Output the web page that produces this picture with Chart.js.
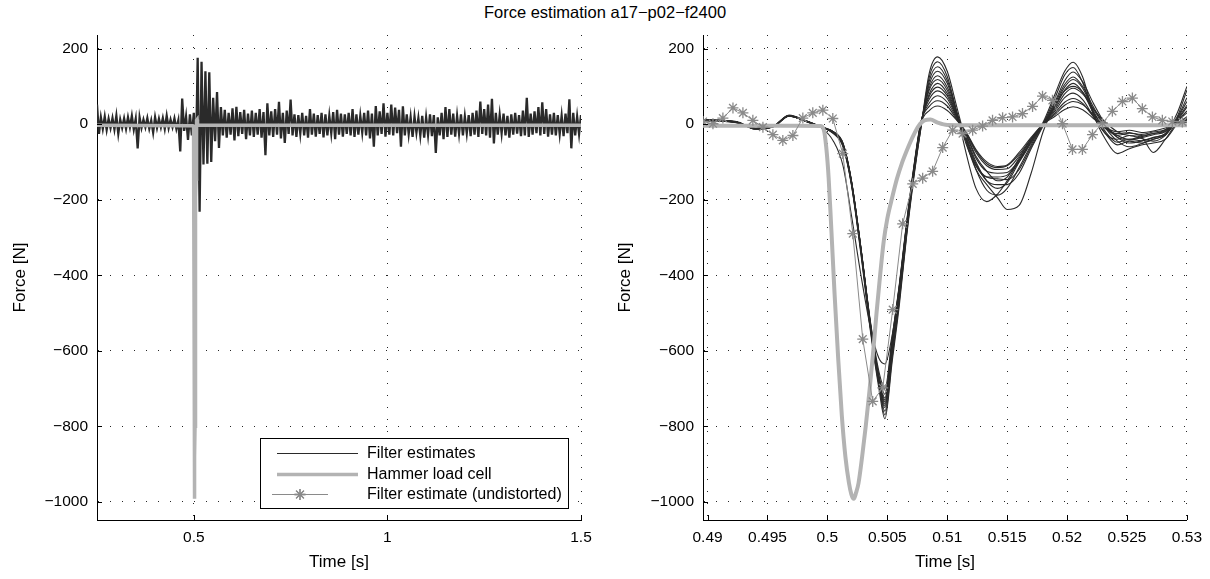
<!DOCTYPE html>
<html>
<head>
<meta charset="utf-8">
<script src="https://cdn.jsdelivr.net/npm/chart.js@4.4.1/dist/chart.umd.min.js"></script>
<style>
  html, body { margin: 0; padding: 0; background: #fff; width: 1210px; height: 579px; overflow: hidden; }
  #title { position: absolute; left: 0; top: 2px; width: 1210px; text-align: center;
           font: 16.5px "Liberation Sans", Arial, Helvetica, sans-serif; color: #000; line-height: 20px; }
  .pane { position: absolute; top: 0; width: 605px; height: 579px; }
</style>
</head>
<body>
<div id="title">Force estimation a17−p02−f2400</div>
<div class="pane" style="left:0"><canvas id="overview" width="605" height="579"></canvas></div>
<div class="pane" style="left:605px"><canvas id="detail" width="605" height="579"></canvas></div>
<script>
// ---------- tick labels ----------
const forceTicks = [200, 0, -200, -400, -600, -800, -1000];
const overviewTimeTicks = [0.5, 1, 1.5];
const detailTimeTicks = [0.49, 0.495, 0.5, 0.505, 0.51, 0.515, 0.52, 0.525, 0.53];

// ---------- overview: filter estimate excursions ----------
// upper excursions every 10 ms starting at 0.25 s
const overviewHigh = [
  52, 18, 20, 14, 16, 22, 12, 15, 18, 22,
  14, 18, 12, 16, 10, 18, 14, 16, 22, 12,
  15, 10, 68, 20, 26, 30, 176, 165, 140, 137,
  70, 85, 45, 38, 30, 42, 46, 32, 38, 28,
  36, 30, 40, 32, 55, 34, 40, 59, 30, 36,
  65, 26, 24, 30, 22, 40, 28, 24, 30, 26,
  22, 32, 38, 28, 26, 30, 40, 26, 22, 30,
  36, 28, 48, 34, 55, 30, 52, 44, 38, 47,
  26, 18, 20, 16, 22, 18, 26, 24, 18, 30,
  45, 40, 28, 22, 26, 20, 24, 30, 36, 60,
  40, 52, 67, 30, 24, 28, 22, 26, 30, 24,
  36, 70, 28, 34, 45, 58, 40, 26, 30, 24,
  22, 28, 66, 30, 20, 24
];
// lower excursions every 10 ms starting at 0.255 s
const overviewLow = [
  -26, -12, -15, -10, -14, -25, -10, -12, -8, -14,
  -64, -10, -8, -12, -22, -10, -8, -12, -10, -8,
  -12, -72, -18, -42, -30, -120, -232, -107, -105, -100,
  -45, -63, -30, -36, -28, -43, -32, -26, -40, -30,
  -34, -28, -36, -82, -30, -34, -28, -38, -50, -26,
  -30, -34, -24, -30, -36, -28, -33, -26, -35, -30,
  -24, -40, -28, -33, -26, -30, -34, -28, -22, -30,
  -38, -60, -30, -26, -33, -28, -30, -24, -60, -30,
  -26, -34, -22, -30, -36, -28, -32, -76, -30, -40,
  -34, -28, -33, -25, -30, -24, -32, -28, -34, -26,
  -30, -36, -51, -28, -24, -30, -36, -28, -25, -32,
  -30, -34, -28, -24, -30, -26, -33, -28, -30, -26,
  -32, -24, -64, -30, -26
];

// ---------- hammer load cell ----------
const hammerTime = [
  0.48962, 0.4920, 0.4950, 0.4975, 0.4994, 0.4997, 0.4999, 0.5001, 0.5003, 0.5006,
  0.5009, 0.5012, 0.5015, 0.5018, 0.5020, 0.5022, 0.5024, 0.5026, 0.5029, 0.5032,
  0.5035, 0.5038, 0.5041, 0.5044, 0.5047, 0.5050, 0.5054, 0.5058, 0.5062, 0.5066,
  0.5071, 0.5076, 0.5081, 0.5086, 0.5092, 0.5100, 0.5150, 0.5200, 0.5250, 0.5300
];
const hammerForce = [
  -4, -4, -4, -4, -5, -15, -60, -140, -260, -450,
  -620, -770, -880, -950, -980, -992, -975, -950, -880, -800,
  -710, -610, -500, -400, -310, -250, -195, -145, -105, -72,
  -35, -5, 10, 12, 4, -2, -3, -3, -3, -3
];

// ---------- undistorted filter estimate ----------
const undistortedTime = [
  0.48962, 0.49045, 0.49128, 0.49212, 0.49295, 0.49378, 0.49462, 0.49545, 0.49628, 0.49712,
  0.49795, 0.49878, 0.49962, 0.50045, 0.50128, 0.50212, 0.50295, 0.50378, 0.50462, 0.50545,
  0.50628, 0.50712, 0.50795, 0.50878, 0.50962, 0.51045, 0.51128, 0.51212, 0.51295, 0.51378,
  0.51462, 0.51545, 0.51628, 0.51712, 0.51795, 0.51878, 0.51962, 0.52045, 0.52128, 0.52212,
  0.52295, 0.52378, 0.52462, 0.52545, 0.52628, 0.52712, 0.52795, 0.52878, 0.52962
];
const undistortedForce = [
  7, 1, 16, 43, 30, 10, -8, -28, -43, -30,
  16, 30, 37, 15, -78, -290, -569, -734, -698, -491,
  -264, -158, -143, -125, -62, -16, -25, -16, -5, 10,
  17, 19, 28, 47, 74, 63, 1, -67, -67, -28,
  3, 34, 60, 69, 41, 19, 10, 7, 6
];

// ---------- filter estimates (detail window) ----------
const estimateTime = [
  0.48962, 0.4910, 0.4925, 0.4940, 0.4955, 0.4968, 0.4982, 0.4995, 0.5005, 0.5013,
  0.5020, 0.5028, 0.5036, 0.5043, 0.5048, 0.5054, 0.5060, 0.5066, 0.5072, 0.5078,
  0.5085, 0.5092, 0.5100, 0.5108, 0.5116, 0.5124, 0.5133, 0.5142, 0.5150, 0.5160,
  0.5170, 0.5180, 0.5190, 0.5198, 0.5205, 0.5213, 0.5222, 0.5232, 0.5242, 0.5252,
  0.5262, 0.5272, 0.5282, 0.5292, 0.5300
];
const est01 = [12, 10, 5, -13, -6, 24, 9, -8, -25, -60, -160, -345, -550, -700, -780, -630, -480, -300, -145, -10,
  135, 178, 140, 45, -50, -120, -160, -195, -226, -215, -130, -20, 50, 88, 100, 85, 40, -10, -45, -60, -52, -40, -28, 20, 90];
const est02 = [10, 9, 4, -12, -5, 22, 8, -7, -22, -55, -155, -335, -540, -690, -770, -620, -470, -295, -140, -12,
  124, 165, 126, 30, -80, -170, -205, -185, -150, -95, -45, 5, 80, 140, 164, 125, 30, -25, -40, -30, -38, -45, -30, 15, 60];
const est03 = [9, 8, 3, -11, -7, 21, 9, -9, -20, -52, -150, -330, -535, -685, -760, -610, -465, -290, -135, -8,
  114, 152, 116, 32, -55, -110, -140, -145, -147, -120, -60, 0, 70, 130, 150, 110, 25, -40, -78, -65, -55, -50, -40, 0, 20];
const est04 = [11, 10, 6, -12, -6, 23, 8, -8, -24, -58, -158, -340, -545, -690, -750, -600, -455, -285, -135, -5,
  105, 140, 108, 30, -45, -120, -175, -188, -170, -115, -55, 0, 60, 115, 138, 112, 55, 0, -35, -50, -45, -35, -25, 30, 100];
const est05 = [10, 9, 5, -13, -6, 22, 7, -9, -21, -54, -152, -332, -535, -680, -745, -595, -450, -282, -130, -4,
  96, 128, 98, 28, -40, -105, -150, -160, -160, -130, -65, -5, 55, 105, 125, 100, 45, -5, -30, -40, -33, -25, -18, 11, 45];
const est06 = [9, 9, 4, -11, -5, 21, 8, -7, -20, -50, -148, -328, -530, -675, -740, -590, -445, -280, -128, -2,
  90, 118, 90, 24, -35, -100, -150, -170, -155, -100, -45, 0, 50, 98, 118, 95, 35, -20, -48, -40, -44, -36, -25, 8, 30];
const est07 = [11, 10, 5, -12, -7, 23, 9, -8, -23, -57, -156, -336, -538, -678, -735, -585, -440, -275, -125, 0,
  80, 108, 82, 22, -40, -110, -140, -140, -135, -100, -50, 0, 45, 90, 108, 85, 30, -10, -25, -22, -30, -25, -15, 18, 70];
const est08 = [10, 8, 4, -12, -6, 22, 8, -9, -21, -53, -150, -330, -532, -672, -730, -580, -437, -272, -122, 2,
  74, 98, 75, 20, -30, -90, -125, -130, -128, -95, -45, 0, 40, 80, 95, 80, 40, 5, -20, -30, -35, -75, -40, 3, 10];
const est09 = [9, 9, 5, -13, -6, 21, 8, -8, -22, -55, -153, -333, -534, -670, -725, -578, -432, -268, -120, 4,
  66, 88, 68, 18, -28, -85, -125, -150, -140, -90, -40, 0, 35, 70, 82, 65, 20, -25, -55, -45, -50, -40, -28, 13, 50];
const est10 = [10, 9, 4, -11, -5, 22, 9, -7, -20, -51, -149, -328, -528, -665, -715, -572, -428, -265, -118, 5,
  56, 75, 58, 15, -25, -75, -110, -120, -118, -85, -40, 0, 30, 58, 68, 55, 20, -8, -20, -16, -22, -18, -10, 1, 5];
const est11 = [11, 10, 5, -12, -6, 23, 8, -8, -22, -54, -151, -330, -525, -655, -700, -565, -425, -262, -115, 6,
  47, 62, 48, 12, -24, -70, -105, -115, -110, -80, -38, 0, 26, 50, 60, 52, 25, -5, -35, -42, -36, -28, -20, 9, 35];
const est12 = [10, 9, 5, -12, -6, 22, 8, -10, -45, -110, -240, -400, -540, -620, -635, -560, -430, -270, -125, 0,
  36, 48, 36, 10, -22, -67, -100, -112, -108, -75, -35, 0, 21, 39, 46, 38, 15, -12, -30, -24, -27, -21, -15, 4, 15];
const estimates = [est01, est02, est03, est04, est05, est06, est07, est08, est09, est10, est11, est12];

// ---------- styles ----------
const FONT = '"Liberation Sans", Arial, Helvetica, sans-serif';
const DARK = '#2a2a2a';
const HAMMER = '#b3b3b3';
const UNDIST = '#8a8a8a';

const pairs = (xs, ys) => ys.map((y, i) => ({ x: xs[i], y }));
const minusSign = v => String(v).replace('-', '\u2212');

// overview trace: alternate upper and lower excursions along time
const overviewTrace = [];
overviewHigh.forEach((v, i) => {
  overviewTrace.push({ x: 0.25 + 0.01 * i, y: v });
  if (i < overviewLow.length) overviewTrace.push({ x: 0.255 + 0.01 * i, y: overviewLow[i] });
});

// inward tick marks on the left and bottom axes
const inwardTicks = {
  id: 'inwardTicks',
  afterDraw(chart) {
    const { ctx, chartArea: a, scales: { x, y } } = chart;
    ctx.save();
    ctx.strokeStyle = '#000';
    ctx.lineWidth = 1;
    ctx.beginPath();
    x.ticks.forEach(t => {
      const px = Math.round(x.getPixelForValue(t.value)) + 0.5;
      ctx.moveTo(px, a.bottom); ctx.lineTo(px, a.bottom - 5);
    });
    y.ticks.forEach(t => {
      const py = Math.round(y.getPixelForValue(t.value)) + 0.5;
      ctx.moveTo(a.left, py); ctx.lineTo(a.left + 5, py);
    });
    ctx.stroke();
    ctx.restore();
  }
};

// boxed legend in the lower right of the overview axes
const boxLegend = {
  id: 'boxLegend',
  afterDraw(chart) {
    const ctx = chart.ctx;
    const L = 260, T = 438, R = 568, B = 508;
    ctx.save();
    ctx.fillStyle = '#fff';
    ctx.fillRect(L, T, R - L, B - T);
    ctx.strokeStyle = '#000';
    ctx.lineWidth = 1;
    ctx.strokeRect(L + 0.5, T + 0.5, R - L, B - T);
    ctx.font = '16px ' + FONT;
    ctx.textBaseline = 'middle';
    ctx.fillStyle = '#000';
    chart.data.datasets.forEach((ds, i) => {
      const yy = Math.round(T + 15 + i * 20.7) + 0.5;
      ctx.strokeStyle = ds.borderColor;
      ctx.lineWidth = ds.legendWidth || ds.borderWidth;
      ctx.beginPath();
      if (ds.pointStyle === 'star') {
        ctx.moveTo(272, yy); ctx.lineTo(328, yy); ctx.stroke();
        ctx.lineWidth = 1.3;
        Chart.helpers.drawPoint(ctx, { pointStyle: 'star', radius: 5.5, borderWidth: 1.3 }, 300, yy);
        ctx.strokeStyle = ds.pointBorderColor;
        ctx.stroke();
      } else {
        ctx.moveTo(277, yy); ctx.lineTo(358, yy); ctx.stroke();
      }
      ctx.fillText(ds.label, 367, yy + 0.5);
    });
    ctx.restore();
  }
};

function makeAxes(xMin, xMax, xTicks, axisWidth) {
  const grid = { color: 'rgba(0,0,0,0.85)', lineWidth: 1, drawTicks: false };
  const border = { display: true, color: '#000', width: 1, dash: [1, 11] };
  const tickFont = { family: FONT, size: 15.5 };
  const titleFont = { family: FONT, size: 17 };
  return {
    x: {
      type: 'linear', min: xMin, max: xMax,
      grid, border,
      afterBuildTicks: s => { s.ticks = xTicks.map(v => ({ value: v })); },
      afterFit: s => { s.height = 59; },
      ticks: { color: '#000', font: tickFont, padding: 8, maxRotation: 0, autoSkip: false, callback: v => minusSign(v) },
      title: { display: true, text: 'Time [s]', color: '#000', font: titleFont, padding: { top: 0, bottom: 6 } }
    },
    y: {
      type: 'linear', min: -1048, max: 236,
      grid, border,
      afterBuildTicks: s => { s.ticks = forceTicks.map(v => ({ value: v })); },
      afterFit: s => { s.width = axisWidth; },
      ticks: { color: '#000', font: tickFont, padding: 9, autoSkip: false, callback: v => minusSign(v) },
      title: { display: true, text: 'Force [N]', color: '#000', font: titleFont, padding: { top: 10, bottom: 0 } }
    }
  };
}

const common = {
  responsive: false,
  animation: false,
  events: [],
  plugins: { legend: { display: false }, tooltip: { enabled: false }, title: { display: false } },
  elements: { point: { radius: 0 } }
};

// ---------- overview chart ----------
new Chart(document.getElementById('overview'), {
  type: 'line',
  data: {
    datasets: [
      { label: 'Filter estimates', data: overviewTrace, borderColor: DARK, borderWidth: 2.3, legendWidth: 1.1,
        borderJoinStyle: 'miter', order: 3, pointRadius: 0 },
      { label: 'Hammer load cell',
        data: [{ x: 0.25, y: -3 }, ...pairs(hammerTime, hammerForce), { x: 1.5, y: -3 }],
        borderColor: HAMMER, borderWidth: 3.5, order: 2, pointRadius: 0 },
      { label: 'Filter estimate (undistorted)', data: [], borderColor: UNDIST, borderWidth: 1,
        pointStyle: 'star', pointBorderColor: UNDIST, order: 1 }
    ]
  },
  options: Object.assign({}, common, {
    layout: { padding: { top: 35, right: 24, bottom: 0, left: 0 } },
    scales: makeAxes(0.25, 1.5, overviewTimeTicks, 97)
  }),
  plugins: [inwardTicks, boxLegend]
});

// ---------- detail chart ----------
const detailSets = estimates.map(arr => ({
  label: 'Filter estimates', data: pairs(estimateTime, arr),
  borderColor: DARK, borderWidth: 1.1, order: 3, pointRadius: 0, cubicInterpolationMode: 'monotone'
}));
detailSets.push({
  label: 'Hammer load cell', data: pairs(hammerTime, hammerForce),
  borderColor: HAMMER, borderWidth: 4, order: 2, pointRadius: 0, cubicInterpolationMode: 'monotone'
});
detailSets.push({
  label: 'Filter estimate (undistorted)', data: pairs(undistortedTime, undistortedForce),
  borderColor: UNDIST, borderWidth: 1, order: 1,
  pointStyle: 'star', pointRadius: 5.5, pointBorderWidth: 1.3, pointBorderColor: UNDIST, pointBackgroundColor: UNDIST
});

new Chart(document.getElementById('detail'), {
  type: 'line',
  data: { datasets: detailSets },
  options: Object.assign({}, common, {
    layout: { padding: { top: 35, right: 23, bottom: 0, left: 0 } },
    scales: makeAxes(0.48962, 0.53, detailTimeTicks, 98)
  }),
  plugins: [inwardTicks]
});
</script>
</body>
</html>
